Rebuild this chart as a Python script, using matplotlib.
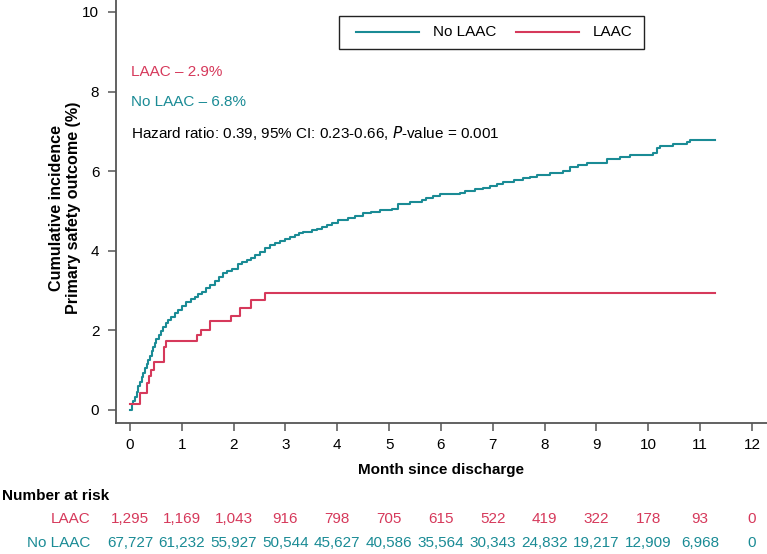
import matplotlib
matplotlib.use("Agg")
import matplotlib.pyplot as plt
from matplotlib.transforms import blended_transform_factory
from matplotlib.lines import Line2D
from matplotlib.patches import Rectangle

plt.rcParams['font.family'] = ['Liberation Sans', 'DejaVu Sans']

# ---- data ----
no_laac_t = [0.0, 0.03, 0.06, 0.10, 0.13, 0.16, 0.19, 0.23, 0.26, 0.29, 0.32, 0.35, 0.39,
             0.42, 0.45, 0.48, 0.51, 0.55, 0.60, 0.64, 0.69, 0.74, 0.80, 0.87, 0.93, 1.00,
             1.09, 1.18, 1.25, 1.32, 1.38, 1.46, 1.54, 1.64, 1.72, 1.80, 1.88, 1.96, 2.09,
             2.17, 2.25, 2.33, 2.41, 2.50, 2.60, 2.70, 2.80, 2.90, 2.99, 3.08, 3.18, 3.26,
             3.34, 3.51, 3.60, 3.70, 3.80, 3.89, 4.02, 4.21, 4.35, 4.50, 4.65, 4.82, 5.05,
             5.18, 5.40, 5.63, 5.72, 5.85, 5.98, 6.37, 6.46, 6.65, 6.82, 6.95, 7.08, 7.20,
             7.40, 7.59, 7.72, 7.85, 8.10, 8.36, 8.49, 8.65, 8.81, 9.07, 9.20, 9.45, 9.65,
             10.10, 10.16, 10.23, 10.48, 10.74, 10.80, 11.29]
no_laac_y = [0.0, 0.15, 0.23, 0.33, 0.46, 0.60, 0.71, 0.84, 0.94, 1.05, 1.16, 1.26, 1.36,
             1.47, 1.58, 1.68, 1.78, 1.88, 1.99, 2.09, 2.18, 2.26, 2.34, 2.43, 2.51, 2.60,
             2.72, 2.78, 2.85, 2.91, 2.97, 3.06, 3.14, 3.24, 3.33, 3.43, 3.48, 3.54, 3.66,
             3.72, 3.77, 3.83, 3.89, 3.98, 4.08, 4.14, 4.19, 4.25, 4.30, 4.35, 4.40, 4.44,
             4.48, 4.52, 4.55, 4.59, 4.64, 4.69, 4.77, 4.82, 4.88, 4.94, 4.98, 5.03, 5.05,
             5.18, 5.23, 5.28, 5.33, 5.38, 5.42, 5.44, 5.51, 5.54, 5.57, 5.62, 5.68, 5.74,
             5.78, 5.82, 5.86, 5.90, 5.96, 6.01, 6.11, 6.15, 6.20, 6.21, 6.30, 6.35, 6.41,
             6.45, 6.58, 6.63, 6.68, 6.72, 6.79, 6.79]

laac_t = [0.0, 0.19, 0.32, 0.36, 0.41, 0.46, 0.66, 0.70, 1.29, 1.37, 1.54, 1.94, 2.13, 2.34, 2.60, 11.29]
laac_y = [0.14, 0.42, 0.67, 0.85, 1.00, 1.20, 1.59, 1.74, 1.88, 2.01, 2.24, 2.36, 2.55, 2.76, 2.95, 2.95]

months = list(range(0, 13))
risk_laac = ["1,295", "1,169", "1,043", "916", "798", "705", "615", "522", "419", "322", "178", "93", "0"]
risk_no_laac = ["67,727", "61,232", "55,927", "50,544", "45,627", "40,586", "35,564", "30,343",
                "24,832", "19,217", "12,909", "6,968", "0"]

TEAL = "#1a8b95"
RED = "#d6395b"
AXC = "#555555"
FS = 11

W, H = 767, 554
fig = plt.figure(figsize=(W / 100, H / 100), dpi=100)
ax = fig.add_axes([116 / W, 1 - 423 / H, (767 - 116) / W, 423 / H])

ax.plot(no_laac_t, no_laac_y, drawstyle="steps-post", color=TEAL, lw=1.5)
ax.plot(laac_t, laac_y, drawstyle="steps-post", color=RED, lw=1.5)

ax.set_xlim(-0.27, 12.29)
ax.set_ylim(-0.327, 10.30)
ax.set_xticks(months)
ax.set_yticks([0, 2, 4, 6, 8, 10])
for s in ["top", "right"]:
    ax.spines[s].set_visible(False)
for s in ["left", "bottom"]:
    ax.spines[s].set_color(AXC)
    ax.spines[s].set_linewidth(1.3)
ax.tick_params(axis="both", direction="out", length=6, width=1.1, color=AXC,
               labelsize=FS, labelcolor="black")
ax.tick_params(axis="x", pad=5)
ax.tick_params(axis="y", pad=6)

ax.set_xlabel("Month since discharge", fontsize=FS, fontweight="bold", labelpad=8)

fig.text(65 / W, 1 - 208 / H, "Cumulative incidence\nPrimary safety outcome (%)",
         rotation=90, ha="center", va="center", fontsize=11.6, fontweight="bold",
         multialignment="center", linespacing=1.2)

# annotations
tx = 131 / W
fig.text(tx, 1 - 72.5 / H, "LAAC – 2.9%", color=RED, fontsize=FS, va="center", ha="left")
fig.text(tx, 1 - 102.5 / H, "No LAAC – 6.8%", color=TEAL, fontsize=FS, va="center", ha="left")
fig.text(tx, 1 - 132.5 / H, "Hazard ratio: 0.39, 95% CI: 0.23-0.66, $\\it{P}$-value = 0.001",
         color="black", fontsize=FS, va="center", ha="left")

# legend (drawn as a framed box in figure pixels)
def fx(px):
    return px / W

def fy(py):
    return 1 - py / H

fig.add_artist(Rectangle((fx(339), fy(49)), fx(644) - fx(339), fy(16) - fy(49),
                         transform=fig.transFigure, fill=False, edgecolor="#222222", lw=1.0))
ly = fy(32)
fig.add_artist(Line2D([fx(356), fx(419)], [ly, ly], transform=fig.transFigure, color=TEAL, lw=1.5))
fig.text(fx(433), fy(32.5), "No LAAC", fontsize=FS, va="center", ha="left")
fig.add_artist(Line2D([fx(516), fx(579)], [ly, ly], transform=fig.transFigure, color=RED, lw=1.5))
fig.text(fx(593), fy(32.5), "LAAC", fontsize=FS, va="center", ha="left")

# number at risk table
tr = blended_transform_factory(ax.transData, fig.transFigure)
fig.text(2 / W, 1 - 496 / H, "Number at risk", fontsize=FS, fontweight="bold", va="center", ha="left")
fig.text(90 / W, 1 - 519 / H, "LAAC", color=RED, fontsize=FS, va="center", ha="right")
fig.text(90 / W, 1 - 543 / H, "No LAAC", color=TEAL, fontsize=FS, va="center", ha="right")
for m, a, b in zip(months, risk_laac, risk_no_laac):
    fig.text(m, 1 - 519 / H, a, color=RED, fontsize=FS, va="center", ha="center", transform=tr)
    fig.text(m, 1 - 543 / H, b, color=TEAL, fontsize=FS, va="center", ha="center", transform=tr)

fig.savefig("out.png", dpi=100)
